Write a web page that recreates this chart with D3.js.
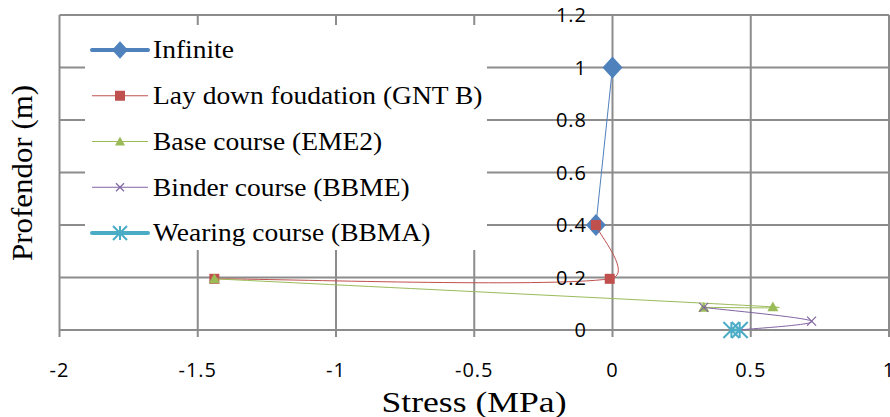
<!DOCTYPE html>
<html>
<head>
<meta charset="utf-8">
<script src="https://cdn.jsdelivr.net/npm/d3@7"></script>
<style>
  body { margin: 0; background: #fff; }
  svg { display: block; }
  .tick-label { font-family: "Open Sans", sans-serif; font-size: 20px; fill: #000; letter-spacing: 1px; }
  .axis-title { font-family: "Liberation Serif", serif; font-size: 29px; fill: #000; }
  .legend-text { font-family: "Liberation Serif", serif; font-size: 25px; fill: #000; }
</style>
</head>
<body>
<div class="chart"></div>
<script>
// chart data
var seriesNames = ["Infinite", "Lay down foudation (GNT B)", "Base course (EME2)", "Binder course (BBME)", "Wearing course (BBMA)"];
var infiniteStress = [0, -0.06];
var infiniteDepth = [1, 0.4];
var layStress = [-0.06, -0.01, -1.44];
var layDepth = [0.4, 0.195, 0.195];
var baseStress = [-1.44, 0.58, 0.33];
var baseDepth = [0.195, 0.088, 0.086];
var binderStress = [0.33, 0.72, 0.46];
var binderDepth = [0.086, 0.034, 0];
var wearingStress = [0.43, 0.46];
var wearingDepth = [0, 0];
var xTicks = [-2, -1.5, -1, -0.5, 0, 0.5, 1];
var yTicks = [0, 0.2, 0.4, 0.6, 0.8, 1, 1.2];

var svgWidth = 890;
var svgHeight = 417;

var svg = d3.select(".chart")
  .append("svg")
  .attr("width", svgWidth)
  .attr("height", svgHeight);

var xScale = d3.scaleLinear().domain([-2, 1]).range([59.5, 889]);
var yScale = d3.scaleLinear().domain([0, 1.2]).range([330, 15]);

var gridColor = "#8c8c8c";

// gridlines (x gridlines run a bit past the axis as tick marks)
svg.append("g").selectAll("line")
  .data(xTicks)
  .enter().append("line")
  .attr("x1", function (d) { return xScale(d); })
  .attr("x2", function (d) { return xScale(d); })
  .attr("y1", yScale(1.2))
  .attr("y2", yScale(0) + 7)
  .attr("stroke", gridColor)
  .attr("stroke-width", 2);

svg.append("g").selectAll("line")
  .data(yTicks)
  .enter().append("line")
  .attr("x1", xScale(-2))
  .attr("x2", xScale(1))
  .attr("y1", function (d) { return yScale(d); })
  .attr("y2", function (d) { return yScale(d); })
  .attr("stroke", gridColor)
  .attr("stroke-width", 2);

// legend box covers the grid
var legend = svg.append("g");
legend.append("rect")
  .attr("x", 85).attr("y", 25)
  .attr("width", 402).attr("height", 225)
  .attr("fill", "#fff");

var series = [
  { name: seriesNames[0], xs: infiniteStress, ys: infiniteDepth, color: "#4F81BD", marker: "diamond", size: 10, legendSize: 8, legendWidth: 4 },
  { name: seriesNames[1], xs: layStress, ys: layDepth, color: "#C0504D", marker: "square", size: 5, legendSize: 5, legendWidth: 1 },
  { name: seriesNames[2], xs: baseStress, ys: baseDepth, color: "#9BBB59", marker: "triangle", size: 5.5, legendSize: 5, legendWidth: 1 },
  { name: seriesNames[3], xs: binderStress, ys: binderDepth, color: "#8064A2", marker: "x", size: 4.5, legendSize: 4, legendWidth: 1 },
  { name: seriesNames[4], xs: wearingStress, ys: wearingDepth, color: "#4BACC6", marker: "star", size: 8, legendSize: 7, legendWidth: 4 }
];

function drawMarker(g, type, cx, cy, s, color) {
  if (type === "diamond") {
    g.append("path")
      .attr("d", "M" + cx + "," + (cy - s * 1.1) + "L" + (cx + s) + "," + cy + "L" + cx + "," + (cy + s * 1.1) + "L" + (cx - s) + "," + cy + "Z")
      .attr("fill", color);
  } else if (type === "square") {
    g.append("rect")
      .attr("x", cx - s).attr("y", cy - s)
      .attr("width", 2 * s).attr("height", 2 * s)
      .attr("fill", color);
  } else if (type === "triangle") {
    g.append("path")
      .attr("d", "M" + cx + "," + (cy - s) + "L" + (cx + s) + "," + (cy + s * 0.8) + "L" + (cx - s) + "," + (cy + s * 0.8) + "Z")
      .attr("fill", color);
  } else if (type === "x") {
    g.append("path")
      .attr("d", "M" + (cx - s) + "," + (cy - s) + "L" + (cx + s) + "," + (cy + s) + "M" + (cx - s) + "," + (cy + s) + "L" + (cx + s) + "," + (cy - s))
      .attr("stroke", color).attr("stroke-width", 1.2).attr("fill", "none");
  } else if (type === "star") {
    g.append("path")
      .attr("d", "M" + (cx - s) + "," + (cy - s) + "L" + (cx + s) + "," + (cy + s) + "M" + (cx - s) + "," + (cy + s) + "L" + (cx + s) + "," + (cy - s) + "M" + cx + "," + (cy - s) + "L" + cx + "," + (cy + s))
      .attr("stroke", color).attr("stroke-width", 2).attr("fill", "none");
  }
}

// legend entries
series.forEach(function (s, i) {
  var ly = 50 + i * 45.75;
  legend.append("line")
    .attr("x1", 92).attr("x2", 148)
    .attr("y1", ly).attr("y2", ly)
    .attr("stroke", s.color)
    .attr("stroke-width", s.legendWidth)
    .attr("stroke-linecap", s.legendWidth > 1 ? "round" : "butt");
  drawMarker(legend, s.marker, 120, ly, s.legendSize, s.color);
  var t = legend.append("text")
    .attr("class", "legend-text")
    .attr("x", 153)
    .attr("y", ly)
    .attr("dy", "0.33em")
    .text(s.name);
  // the reference type is a little wider than Liberation Serif
  var w = t.node().getComputedTextLength();
  t.attr("textLength", w * 1.1).attr("lengthAdjust", "spacingAndGlyphs");
});

// smoothed line like a spreadsheet "smooth line": Catmull-Rom tangents,
// handle length capped by the segment length
function smoothPath(pts) {
  var p = pts.map(function (d) { return [xScale(d[0]), yScale(d[1])]; });
  var path = d3.path();
  path.moveTo(p[0][0], p[0][1]);
  if (p.length < 3) {
    for (var k = 1; k < p.length; k++) path.lineTo(p[k][0], p[k][1]);
    return path.toString();
  }
  var tan = p.map(function (d, i) {
    var a = p[Math.max(i - 1, 0)], b = p[Math.min(i + 1, p.length - 1)];
    return [(b[0] - a[0]) / 6, (b[1] - a[1]) / 6];
  });
  function capped(v, maxLen) {
    var len = Math.hypot(v[0], v[1]);
    if (len <= maxLen || len === 0) return v;
    return [v[0] * maxLen / len, v[1] * maxLen / len];
  }
  for (var i = 0; i < p.length - 1; i++) {
    var d = Math.hypot(p[i + 1][0] - p[i][0], p[i + 1][1] - p[i][1]);
    var v1 = capped(tan[i], d * 0.45);
    var v2 = capped(tan[i + 1], d * 0.45);
    path.bezierCurveTo(p[i][0] + v1[0], p[i][1] + v1[1],
      p[i + 1][0] - v2[0], p[i + 1][1] - v2[1],
      p[i + 1][0], p[i + 1][1]);
  }
  return path.toString();
}

series.forEach(function (s) {
  var pts = s.xs.map(function (x, i) { return [x, s.ys[i]]; });
  var g = svg.append("g");
  g.append("path")
    .attr("d", smoothPath(pts))
    .attr("fill", "none")
    .attr("stroke", s.color)
    .attr("stroke-width", s.marker === "star" ? 3 : 1);
  pts.forEach(function (p) {
    drawMarker(g, s.marker, xScale(p[0]), yScale(p[1]), s.size, s.color);
  });
});

// tick labels
svg.append("g").selectAll("text")
  .data(xTicks)
  .enter().append("text")
  .attr("class", "tick-label")
  .attr("x", function (d) { return xScale(d); })
  .attr("y", 370)
  .attr("dy", "0.35em")
  .attr("text-anchor", "middle")
  .text(function (d) { return d; });

svg.append("g").selectAll("text")
  .data(yTicks)
  .enter().append("text")
  .attr("class", "tick-label")
  .attr("x", 587)
  .attr("y", function (d) { return yScale(d); })
  .attr("dy", "0.35em")
  .attr("text-anchor", "end")
  .text(function (d) { return d; });

// axis titles
svg.append("text")
  .attr("class", "axis-title")
  .attr("x", 474)
  .attr("y", 412)
  .attr("text-anchor", "middle")
  .attr("textLength", 185)
  .attr("lengthAdjust", "spacingAndGlyphs")
  .text("Stress (MPa)");

svg.append("text")
  .attr("class", "axis-title")
  .attr("transform", "translate(32,173) rotate(-90)")
  .attr("text-anchor", "middle")
  .attr("textLength", 176)
  .attr("lengthAdjust", "spacingAndGlyphs")
  .text("Profendor (m)");
</script>
</body>
</html>
